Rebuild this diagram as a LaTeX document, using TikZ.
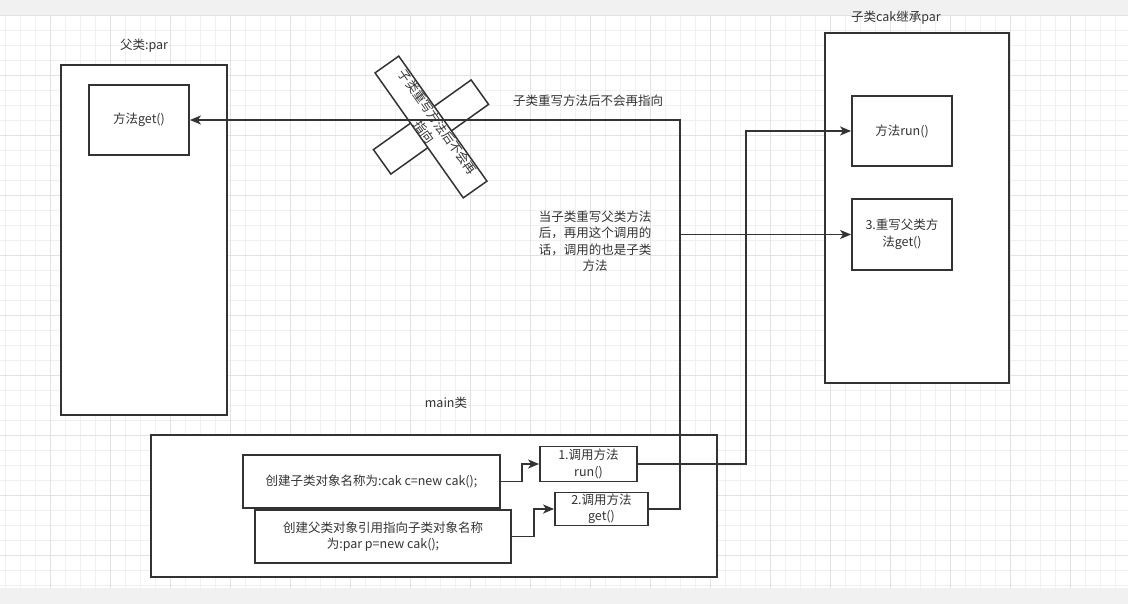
\documentclass[tikz,border=0pt]{standalone}
\usepackage{fontspec}
\setmainfont{Noto Sans CJK SC}
\usetikzlibrary{arrows.meta}
\definecolor{ink}{RGB}{51,51,51}
\definecolor{band}{RGB}{241,241,241}
\definecolor{gridminor}{RGB}{240,240,240}
\definecolor{gridmajor}{RGB}{226,226,226}

\begin{document}
\begin{tikzpicture}[x=1pt, y=-1pt, font=\fontsize{12.5}{16.5}\selectfont, text=ink,
  box/.style={draw=ink, line width=1.8pt, fill=white, inner sep=0pt, align=center},
  conn/.style={draw=ink, line width=1.8pt, -{Stealth[length=11pt,width=9pt,inset=3pt]}}]
  \useasboundingbox (0,0) rectangle (1128,604);
  % canvas and grid
  \fill[band] (0,0) rectangle (1128,604);
  \fill[white] (0,15) rectangle (1128,588);
  \foreach \gx in {5,20,...,1125} \draw[gridminor, line width=0.8pt] (\gx,15) -- (\gx,588);
  \foreach \gy in {30,45,...,585} \draw[gridminor, line width=0.8pt] (0,\gy) -- (1128,\gy);
  \foreach \gx in {50,110,...,1070} \draw[gridmajor, line width=0.8pt] (\gx,15) -- (\gx,588);
  \foreach \gy in {15,75,...,555} \draw[gridmajor, line width=0.8pt] (0,\gy) -- (1128,\gy);

  % parent class
  \node[box, minimum width=166pt, minimum height=350pt] (par) at (144,240) {};
  \node (parname) at (144,46) {父类:par};
  \node[box, minimum width=100pt, minimum height=70pt] (parget) at (139,120) {方法get()};

  % child class
  \node[box, minimum width=184pt, minimum height=350pt] (cak) at (917,208) {};
  \node (cakname) at (896,18) {子类cak继承par};
  \node[box, minimum width=100pt, minimum height=70pt] (cakrun) at (902,131) {方法run()};
  \node[box, minimum width=100pt, minimum height=71pt] (cakget) at (902,234.5) {3.重写父类方\\法get()};

  % main class
  \node[box, minimum width=566pt, minimum height=142pt] (main) at (434,506) {};
  \node (mainname) at (446,403) {main类};
  \node[box, minimum width=257pt, minimum height=53pt] (newc) at (371.5,481.5) {创建子类对象名称为:cak c=new cak();};
  \node[box, minimum width=256pt, minimum height=53pt] (newp) at (383,536.5) {创建父类对象引用指向子类对象名称\\为:par p=new cak();};
  \node[box, minimum width=97pt, minimum height=35pt] (callrun) at (588.5,464) {1.调用方法\\run()};
  \node[box, minimum width=93pt, minimum height=33pt] (callget) at (601.5,509) {2.调用方法\\get()};

  % crossed-out note
  \node[box, line width=1.5pt, minimum width=120pt, minimum height=30pt, rotate=35.5] (barb) at (431,127) {};
  \node[box, line width=1.5pt, minimum width=153pt, minimum height=29pt, rotate=-54.8] (bara) at (431,127) {};
  \node[rotate=-54.8, align=center] (barnote) at (bara) {子类重写方法后不会再\\指向};

  \node (nopoint) at (588,101) {子类重写方法后不会再指向};
  \node[align=center] (overnote) at (595,241) {当子类重写父类方法\\后，再用这个调用的\\话，调用的也是子类\\方法};

  % calls
  \draw[conn] (newc.east) -- ++(21,0) |- (callrun.west);
  \draw[conn] (newp.east) -- ++(22,0) |- (callget.west);
  \draw[conn] (callrun.east) -- ++(108,0) |- (cakrun.west);
  \draw[conn] (callget.east) -- ++(31,0) coordinate (bend) |- (parget.east);
  \draw[conn] (bend |- cakget.west) -- (cakget.west);
\end{tikzpicture}
\end{document}
